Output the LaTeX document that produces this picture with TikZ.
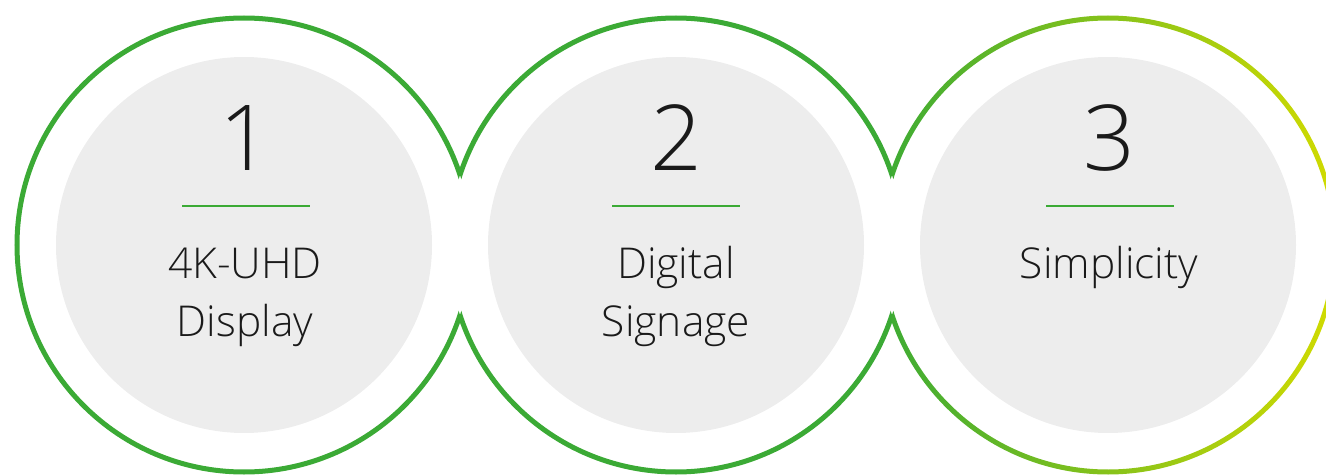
\documentclass[tikz,border=0pt]{standalone}
\usepackage{fontspec}
\setmainfont{Open Sans Light}
\definecolor{ring}{HTML}{3BAA35}
\definecolor{ringY}{HTML}{D2DB00}
\definecolor{disc}{HTML}{EDEDED}
\definecolor{ink}{HTML}{1A1A1A}
\tikzset{
  numtxt/.style={font=\fontsize{91}{91}\selectfont, text=ink, inner sep=0pt, anchor=base},
  lbltxt/.style={font=\fontsize{42.5}{58}\selectfont, text=ink, inner sep=0pt, anchor=base},
  ringline/.style={draw=ring, line width=5pt},
  sepline/.style={draw=ring, line width=2.6pt},
}
\begin{document}
\begin{tikzpicture}[x=1pt,y=1pt]
\def\Rout{227}
\def\Rin{188}
\useasboundingbox (0,0) rectangle (1326,475);
\coordinate (c1) at (244,230);
\coordinate (c2) at (676,230);
\coordinate (c3) at (1108,230);
% grey discs
\foreach \c in {c1,c2,c3}{\fill[disc] (\c) circle (\Rin);}
% circle 1
\begin{scope}[even odd rule]
\clip (-20,-20) rectangle (1400,520) (c2) circle (\Rout);
\draw[ringline] (c1) circle (\Rout);
\end{scope}
% circle 2
\begin{scope}[even odd rule]
\clip (-20,-20) rectangle (1400,520) (c1) circle (\Rout) (c3) circle (\Rout);
\draw[ringline] (c2) circle (\Rout);
\end{scope}
% circle 3 (gradient)
\begin{scope}[even odd rule]
\clip (-20,-20) rectangle (1400,520) (c2) circle (\Rout);
\clip (c3) circle (\Rout+2.5) (c3) circle (\Rout-2.5);
\shade[left color=ring, right color=ringY] (878,-5) rectangle (1338,480);
\end{scope}
% texts
\node[numtxt] (n1) at (245,305) {1};
\node[numtxt] (n2) at (676,305) {2};
\node[numtxt] (n3) at (1109,305) {3};
\coordinate (s1a) at (182,269); \coordinate (s1b) at (310,269);
\coordinate (s2a) at (612,269); \coordinate (s2b) at (740,269);
\coordinate (s3a) at (1046,269); \coordinate (s3b) at (1174,269);
\draw[sepline] (s1a) -- (s1b);
\draw[sepline] (s2a) -- (s2b);
\draw[sepline] (s3a) -- (s3b);
\node[lbltxt] (t1a) at (245,197) {4K-UHD};
\node[lbltxt] (t1b) at (245,139) {Display};
\node[lbltxt] (t2a) at (676,197) {Digital};
\node[lbltxt] (t2b) at (676,139) {Signage};
\node[lbltxt] (t3a) at (1109,197) {Simplicity};
\end{tikzpicture}
\end{document}
